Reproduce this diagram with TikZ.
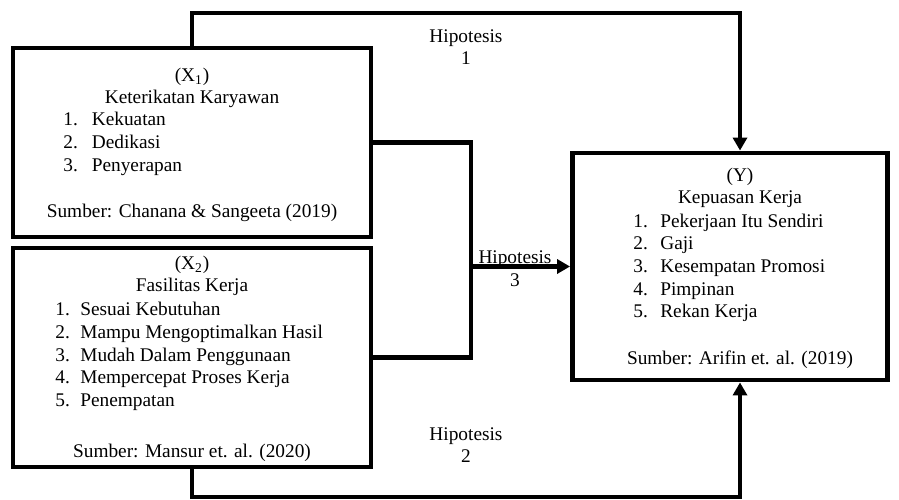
\documentclass[tikz,border=0pt]{standalone}
\usepackage{fontspec}
\setmainfont{Liberation Serif}
\usetikzlibrary{arrows.meta}

\begin{document}
\begin{tikzpicture}[x=0.02cm,y=-0.02cm,
  font=\fontsize{11}{12.9}\selectfont,
  kotak/.style={draw,line width=2.8pt,minimum width=7.16cm,inner sep=0pt},
  teks/.style={inner sep=0pt,align=center},
  daftar/.style={inner sep=0pt,align=left,anchor=west},
  garis/.style={line width=2.5pt},
  panah/.style={garis,-{Triangle[length=0.26cm,width=0.28cm]}}]
\useasboundingbox (0,0) rectangle (899,500);
% boxes
\node[kotak,minimum height=3.78cm] (X1) at (192,142.5) {};
\node[kotak,minimum height=4.38cm] (X2) at (192,357.5) {};
\node[kotak,minimum width=6.3cm,minimum height=4.54cm] (Y) at (730,266.5) {};
% box texts
\node[teks] (X1h) at (192,88) {(X\textsubscript{1})\\Keterikatan Karyawan};
\node[daftar] (X1d) at (63,144) {\makebox[0.57cm][l]{1.}Kekuatan\\\makebox[0.57cm][l]{2.}Dedikasi\\\makebox[0.57cm][l]{3.}Penyerapan};
\node[teks] (X1s) at (192,213) {Sumber: Chanana \& Sangeeta (2019)};
\node[teks] (X2h) at (192,276) {(X\textsubscript{2})\\Fasilitas Kerja};
\node[daftar] (X2d) at (55,356.5) {\makebox[0.5cm][l]{1.}Sesuai Kebutuhan\\\makebox[0.5cm][l]{2.}Mampu Mengoptimalkan Hasil\\\makebox[0.5cm][l]{3.}Mudah Dalam Penggunaan\\\makebox[0.5cm][l]{4.}Mempercepat Proses Kerja\\\makebox[0.5cm][l]{5.}Penempatan};
\node[teks] (X2s) at (192,453) {Sumber: Mansur et. al. (2020)};
\node[teks] (Yh) at (740,188) {(Y)\\Kepuasan Kerja};
\node[daftar] (Yd) at (633,268) {\makebox[0.54cm][l]{1.}Pekerjaan Itu Sendiri\\\makebox[0.54cm][l]{2.}Gaji\\\makebox[0.54cm][l]{3.}Kesempatan Promosi\\\makebox[0.54cm][l]{4.}Pimpinan\\\makebox[0.54cm][l]{5.}Rekan Kerja};
\node[teks] (Ys) at (740,360) {Sumber: Arifin et. al. (2019)};
% connectors
\coordinate (K1) at (740,13);
\coordinate (K2) at (740,497);
\coordinate (J) at (471,266.5);
\draw[panah] (X1.north) |- (K1) -- (K1 |- Y.north);
\draw[panah] (X2.south) |- (K2) -- (K2 |- Y.south);
\draw[garis] (X1.east) -| (J) |- (X2.east);
\draw[panah] (J) -- (Y.west);
% labels
\node[teks] (H1) at (466,47) {Hipotesis\\1};
\node[teks] (H2) at (466,445) {Hipotesis\\2};
\node[teks] (H3) at (515,269) {Hipotesis\\3};
\end{tikzpicture}
\end{document}
